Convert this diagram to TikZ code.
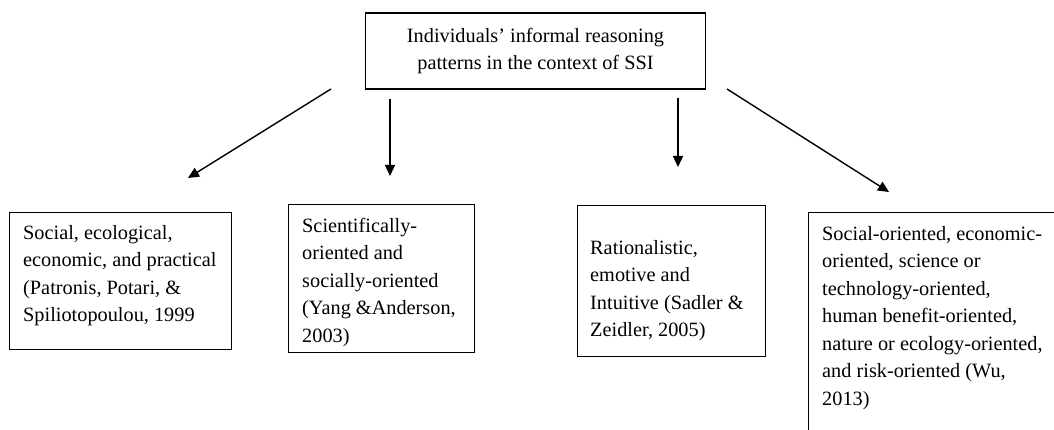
\documentclass[tikz,border=0pt]{standalone}
\usepackage{fontspec}
\setmainfont{Liberation Serif}
\usetikzlibrary{arrows.meta, positioning}

\begin{document}
\begin{tikzpicture}[
    x=1pt, y=1pt,
    >={Triangle[length=11pt, width=10pt]},
    font=\fontsize{20.3}{27.5}\selectfont,
    topbox/.style={rectangle, draw=black, line width=1.1pt, minimum width=340pt, minimum height=76pt, align=center, inner sep=0pt},
    catbox/.style={rectangle, draw=black, line width=1.1pt, anchor=north west, inner sep=0pt},
    cattext/.style={anchor=north west, align=left, inner sep=0pt},
    arr/.style={->, line width=1.4pt}
]

\useasboundingbox (0,0) rectangle (1054,-430);
\clip (0,0) rectangle (1054,-430);

\node[topbox] (top) at (535.5,-51) {Individuals’ informal reasoning\\patterns in the context of SSI};

% category boxes
\node[catbox, minimum width=222pt, minimum height=137pt] (b1) at (9,-212) {};
\node[catbox, minimum width=186pt, minimum height=148pt] (b2) at (288,-204) {};
\node[catbox, minimum width=188pt, minimum height=151pt] (b3) at (577,-205) {};
\node[catbox, minimum width=260pt, minimum height=240pt] (b4) at (808,-212) {};

\node[cattext] (t1) at ([shift={(14pt,-13pt)}]b1.north west)
    {Social, ecological,\\economic, and practical\\(Patronis, Potari, \&\\Spiliotopoulou, 1999};
\node[cattext] (t2) at ([shift={(14pt,-14pt)}]b2.north west)
    {Scientifically-\\oriented and\\socially-oriented\\(Yang \&Anderson,\\2003)};
\node[cattext] (t3) at ([shift={(13pt,-35pt)}]b3.north west)
    {Rationalistic,\\emotive and\\Intuitive (Sadler \&\\Zeidler, 2005)};
\node[cattext] (t4) at ([shift={(14pt,-14pt)}]b4.north west)
    {Social-oriented, economic-\\oriented, science or\\technology-oriented,\\human benefit-oriented,\\nature or ecology-oriented,\\and risk-oriented (Wu,\\2013)};

% arrows from the top box
\coordinate (a1s) at (331,-89);
\coordinate (a1e) at (188,-178);
\coordinate (a2s) at (390,-99);
\coordinate (a2e) at (390,-176);
\coordinate (a3s) at (678,-98);
\coordinate (a3e) at (678,-167);
\coordinate (a4s) at (727,-89);
\coordinate (a4e) at (889,-192);

\draw[arr] (a1s) -- (a1e);
\draw[arr] (a2s) -- (a2e);
\draw[arr] (a3s) -- (a3e);
\draw[arr] (a4s) -- (a4e);
\end{tikzpicture}
\end{document}
